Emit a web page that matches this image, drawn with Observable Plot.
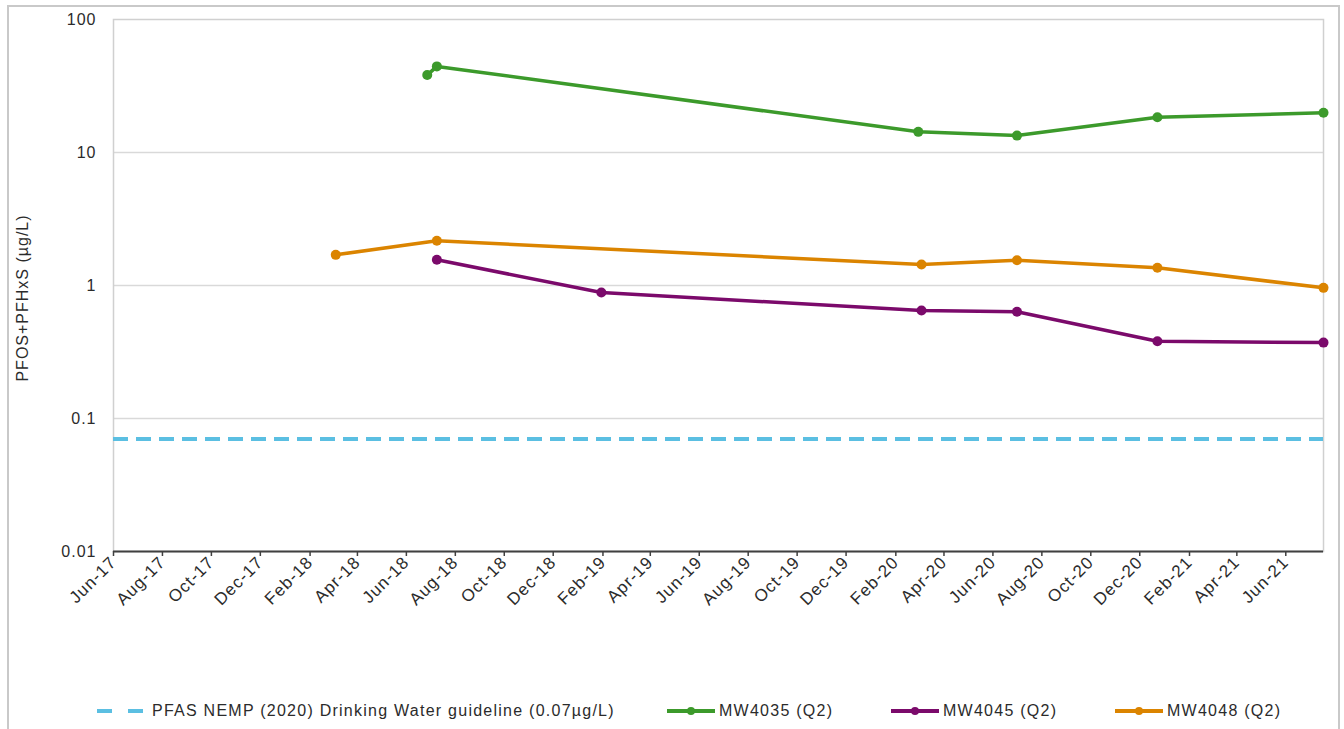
<!DOCTYPE html>
<html>
<head>
<meta charset="utf-8">
<script src="https://cdn.jsdelivr.net/npm/d3@7"></script>
<script src="https://cdn.jsdelivr.net/npm/@observablehq/plot@0.6"></script>
<style>
  html, body { margin: 0; padding: 0; background: #fff; }
  body { width: 1344px; height: 729px; position: relative; overflow: hidden;
         font-family: "Liberation Sans", Arial, sans-serif; }
  #border { position: absolute; left: 7px; top: 5px; width: 1333px; height: 760px;
            border: 2px solid #c9c9c9; box-sizing: border-box; }
  #chart { position: absolute; left: 0; top: 0; }
  .legend-item { position: absolute; top: 700px; height: 22px; display: flex; align-items: center;
                 font-size: 16px; letter-spacing: 1.25px; color: #2b2b2b; white-space: nowrap; }
  .legend-item svg { display: block; }
</style>
</head>
<body>
<div id="border"></div>
<div id="chart"></div>
<div id="legend"></div>
<script>
// Sampling results, PFOS+PFHxS (µg/L), per monitoring well
const mw4035Dates  = ["2018-06-27", "2018-07-09", "2020-02-29", "2020-07-01", "2020-12-23", "2021-07-18"];
const mw4035Values = [38.2, 44.4, 14.3, 13.4, 18.4, 19.9];

const mw4045Dates  = ["2018-07-09", "2019-01-30", "2020-03-04", "2020-07-01", "2020-12-23", "2021-07-18"];
const mw4045Values = [1.56, 0.885, 0.648, 0.634, 0.381, 0.372];

const mw4048Dates  = ["2018-03-05", "2018-07-09", "2020-03-04", "2020-07-01", "2020-12-23", "2021-07-18"];
const mw4048Values = [1.70, 2.17, 1.44, 1.55, 1.36, 0.96];

// Drinking water guideline value
const guidelineValue = 0.07;
const guidelineLabel = "PFAS NEMP (2020) Drinking Water guideline (0.07µg/L)";

const seriesNames  = ["MW4035 (Q2)", "MW4045 (Q2)", "MW4048 (Q2)"];
const seriesColors = ["#3c9a2b", "#7b0a6b", "#db8400"];
const guidelineColor = "#5bbfe2";

// Axis ticks
const xStart = "2017-06-01";
const xEnd   = "2021-07-18";
const xTickLabels = ["Jun-17", "Aug-17", "Oct-17", "Dec-17", "Feb-18", "Apr-18", "Jun-18", "Aug-18",
  "Oct-18", "Dec-18", "Feb-19", "Apr-19", "Jun-19", "Aug-19", "Oct-19", "Dec-19", "Feb-20", "Apr-20",
  "Jun-20", "Aug-20", "Oct-20", "Dec-20", "Feb-21", "Apr-21", "Jun-21"];
const yTicks = [0.01, 0.1, 1, 10, 100];
const yLabel = "PFOS+PFHxS (µg/L)";

const parseDate = d3.utcParse("%Y-%m-%d");
const parseTick = d3.utcParse("%b-%y");
const xTicks = xTickLabels.map(parseTick);

const rows = [];
[[mw4035Dates, mw4035Values], [mw4045Dates, mw4045Values], [mw4048Dates, mw4048Values]]
  .forEach(([dates, values], i) => {
    dates.forEach((d, j) => rows.push({series: seriesNames[i], date: parseDate(d), value: values[j]}));
  });

const textColor = "#2b2b2b";

const chart = Plot.plot({
  width: 1344,
  height: 640,
  marginLeft: 113,
  marginRight: 21,
  marginTop: 19,
  marginBottom: 89,
  style: {fontFamily: "'Liberation Sans', Arial, sans-serif", fontSize: "16px", color: textColor,
          background: "transparent", letterSpacing: "1px"},
  x: {type: "utc", domain: [parseDate(xStart), parseDate(xEnd)]},
  y: {type: "log", domain: [0.01, 100]},
  color: {domain: seriesNames, range: seriesColors},
  marks: [
    Plot.gridY(yTicks.slice(1, -1), {stroke: "#d9d9d9", strokeOpacity: 1, strokeWidth: 1.5}),
    Plot.frame({stroke: "#d0d0d0", strokeWidth: 1.5}),
    Plot.axisY({ticks: yTicks, tickFormat: d => String(d), tickSize: 0, tickPadding: 17,
                label: null, fill: textColor}),
    Plot.axisX({ticks: xTicks, tickFormat: "%b-%y", tickRotate: -45, tickSize: 5, tickPadding: 3,
                fontSize: 17, label: null, stroke: "#404040", strokeWidth: 1.5, fill: textColor}),
    Plot.ruleY([0.01], {stroke: "#404040", strokeWidth: 2}),
    Plot.ruleY([guidelineValue], {stroke: guidelineColor, strokeWidth: 4, strokeDasharray: "15,8"}),
    Plot.line(rows, {x: "date", y: "value", z: "series", stroke: "series", strokeWidth: 3.5}),
    Plot.dot(rows, {x: "date", y: "value", fill: "series", r: 5})
  ]
});

// rotated y-axis title
d3.select(chart).append("text")
  .attr("transform", "translate(22,298) rotate(-90)")
  .attr("text-anchor", "middle")
  .attr("dominant-baseline", "central")
  .attr("fill", textColor)
  .attr("font-size", 16)
  .text(yLabel);

document.getElementById("chart").append(chart);

// legend row
const legend = d3.select("#legend");
const items = [
  {x: 96, label: guidelineLabel, color: guidelineColor, dashed: true},
  {x: 667, label: seriesNames[0], color: seriesColors[0]},
  {x: 891, label: seriesNames[1], color: seriesColors[1]},
  {x: 1115, label: seriesNames[2], color: seriesColors[2]}
];
items.forEach(it => {
  const div = legend.append("div").attr("class", "legend-item").style("left", it.x + "px");
  const sw = div.append("svg").attr("width", 50).attr("height", 22);
  if (it.dashed) {
    sw.append("line").attr("x1", 1).attr("x2", 49).attr("y1", 11).attr("y2", 11)
      .attr("stroke", it.color).attr("stroke-width", 4).attr("stroke-dasharray", "15,16");
    div.append("span").style("margin-left", "6px").text(it.label);
  } else {
    sw.append("line").attr("x1", 0).attr("x2", 48).attr("y1", 11).attr("y2", 11)
      .attr("stroke", it.color).attr("stroke-width", 4);
    sw.append("circle").attr("cx", 24).attr("cy", 11).attr("r", 4).attr("fill", it.color);
    div.append("span").style("margin-left", "2px").text(it.label);
  }
});
</script>
</body>
</html>
